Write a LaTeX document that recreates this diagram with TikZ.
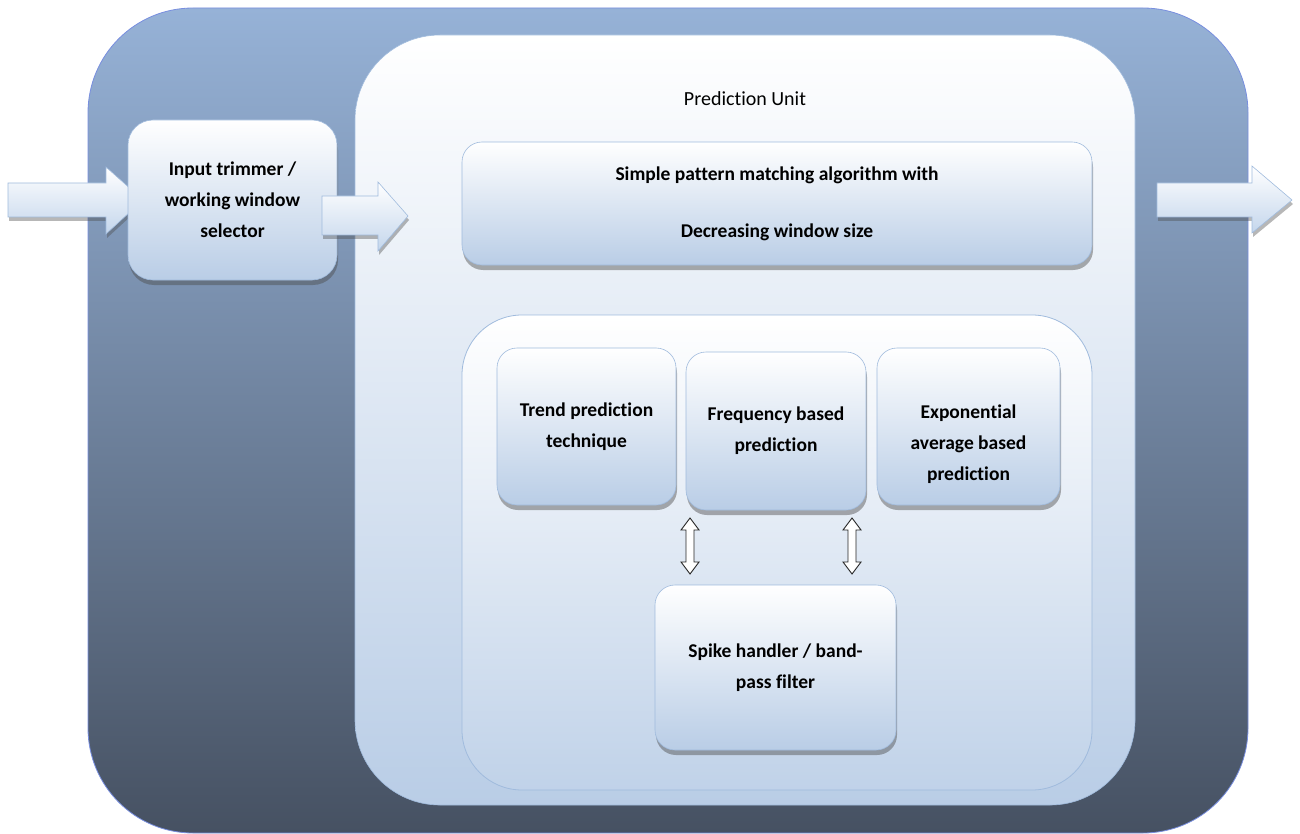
\documentclass[tikz,border=0pt]{standalone}
\usepackage{fontspec}
\setmainfont{Carlito}[Ligatures={NoCommon}]
\usetikzlibrary{shadows,calc}
\definecolor{outertop}{RGB}{150,178,215}
\definecolor{outerbot}{RGB}{70,81,98}
\definecolor{boxbot}{RGB}{185,205,230}
\definecolor{boxline}{RGB}{160,187,221}
\definecolor{arrbot}{RGB}{196,214,236}
\tikzset{
  outerbox/.style={draw=outertop!80!blue, line width=0.8pt, top color=outertop, bottom color=outerbot, rounded corners=105pt},
  unitbox/.style={draw=boxline, line width=0.6pt, top color=white, bottom color=boxbot, rounded corners=85pt, minimum width=780pt, minimum height=770pt, inner sep=0pt},
  stepbox/.style={draw=boxline, line width=0.6pt, top color=white, bottom color=boxbot, rounded corners=20pt, inner sep=0pt, align=center,
    font=\bfseries\fontsize{19.5}{31}\selectfont, drop shadow={shadow xshift=1pt, shadow yshift=-5pt, opacity=0.45, fill=black!70}},
  container/.style={draw=boxline, line width=0.8pt, top color=white, bottom color=boxbot!90!white, rounded corners=60pt, inner sep=0pt},
  blockarrow/.style={draw=boxline, line width=0.6pt, top color=white, bottom color=arrbot,
    drop shadow={shadow xshift=1pt, shadow yshift=-4pt, opacity=0.4, fill=black!70}},
  dblarrow/.style={draw=black!85, line width=0.9pt, fill=white},
  lbl/.style={font=\bfseries\fontsize{19.5}{31}\selectfont, align=center, inner sep=0pt}
}
\begin{document}
\begin{tikzpicture}[x=1pt,y=-1pt]
\useasboundingbox (0,0) rectangle (1300,834);
% outer background
\path[outerbox] (88,8) rectangle (1248,833);
% input arrow
\coordinate (inStart) at (8,200);
\path[blockarrow] (8,183) -- (106,183) -- (106,167) -- (143,200) -- (106,234) -- (106,217) -- (8,217) -- cycle;
% input trimmer box
\node[stepbox, minimum width=209pt, minimum height=160pt, rounded corners=25pt] (trim) at (232.5,200) {Input trimmer /\\working window\\selector};
% prediction unit
\node[unitbox] (pu) at (745,420) {};
\node[font=\fontsize{20}{24}\selectfont] (putitle) at (745,99) {Prediction Unit};
% arrow trimmer -> unit
\path[blockarrow] (322,196) -- (378,196) -- (378,182) -- (408,216) -- (378,251) -- (378,235) -- (322,235) -- cycle;
% output arrow
\path[blockarrow] (1157,183) -- (1252,183) -- (1252,166) -- (1292,200) -- (1252,233) -- (1252,217) -- (1157,217) -- cycle;
% simple pattern matching
\node[stepbox, minimum width=630pt, minimum height=123pt, font=\bfseries\fontsize{19.5}{57}\selectfont] (simple) at (777,203.5) {Simple pattern matching algorithm with\\Decreasing window size};
% inner container
\node[container, minimum width=630pt, minimum height=475pt] (inner) at (777,552.5) {};
% three technique boxes
\node[stepbox, minimum width=179pt, minimum height=157pt] (trend) at (586.5,426.5) {Trend prediction\\technique};
\node[stepbox, minimum width=180pt, minimum height=158pt] (freq) at (776,431) {Frequency based\\prediction};
\node[stepbox, minimum width=183pt, minimum height=157pt] (expo) at (968.5,426.5) {};
\node[lbl] (expotext) at (968.5,444) {Exponential\\average based\\prediction};
% spike handler
\node[stepbox, minimum width=241pt, minimum height=165pt] (spike) at (775.5,667.5) {Spike handler / band-\\pass filter};
% double arrows
\path[dblarrow] (690,518) -- (699,530) -- (694,530) -- (694,562) -- (699,562) -- (690,574) -- (681,562) -- (686,562) -- (686,530) -- (681,530) -- cycle;
\path[dblarrow] (852,518) -- (861,530) -- (856,530) -- (856,562) -- (861,562) -- (852,574) -- (843,562) -- (848,562) -- (848,530) -- (843,530) -- cycle;
\end{tikzpicture}
\end{document}
